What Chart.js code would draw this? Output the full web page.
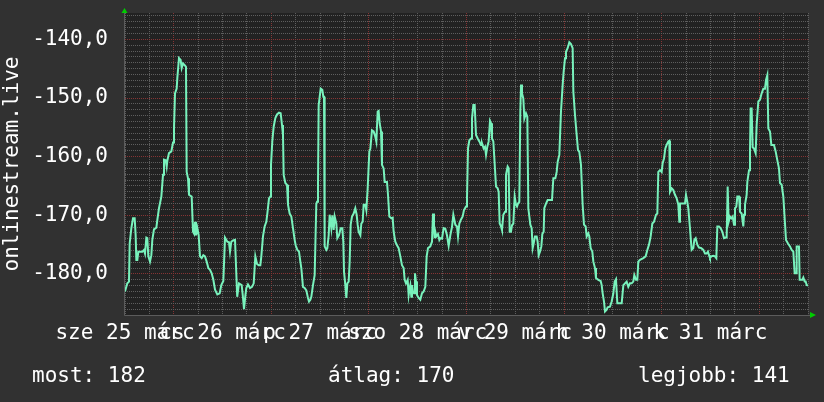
<!DOCTYPE html>
<html>
<head>
<meta charset="utf-8">
<script src="https://cdn.jsdelivr.net/npm/chart.js@4.4.1/dist/chart.umd.min.js"></script>
<style>
html,body{margin:0;padding:0;background:#313131;}
#wrap{width:824px;height:402px;position:relative;}
</style>
</head>
<body>
<div id="wrap"><canvas id="c" width="824" height="402"></canvas></div>
<script>
// time in hours from the start of the week shown
const hours = [
  0, 0.57, 0.98, 1.15, 1.56, 1.97, 2.38, 2.62, 2.79, 3.03,
  3.28, 4.26, 4.67, 4.92, 5.25, 5.49, 5.74, 6.15, 6.48, 6.72,
  7.13, 7.71, 7.95, 8.36, 8.94, 9.35, 9.59, 10.0, 10.25, 10.41,
  10.82, 11.4, 11.81, 12.05, 12.3, 12.71, 12.87, 13.28, 13.69, 13.94,
  14.27, 14.68, 15.0, 15.17, 15.5, 15.74, 16.4, 16.73, 16.97, 17.22,
  17.46, 17.79, 18.12, 18.45, 18.86, 19.27, 19.68, 20.09, 20.5, 20.91,
  21.32, 21.73, 22.14, 22.71, 23.29, 23.69, 24.19, 24.6, 25.17, 25.58,
  25.83, 26.15, 26.56, 27.06, 27.6, 28.04, 28.7, 29.02, 29.27, 29.64,
  29.84, 30.25, 30.75, 31.24, 31.66, 32.06, 32.47, 32.88, 33.29, 33.53,
  33.94, 34.35, 34.76, 35.01, 35.42, 35.75, 35.91, 36.24, 36.57, 36.98,
  37.39, 37.88, 38.29, 38.62, 38.86, 39.03, 39.44, 39.85, 40.09, 40.5,
  40.91, 41.32, 41.73, 41.98, 42.39, 42.8, 43.13, 43.37, 43.78, 44.19,
  44.6, 45.01, 45.26, 45.59, 45.83, 46.24, 46.65, 47.06, 47.23, 47.47,
  47.64, 48.13, 48.54, 48.78, 48.95, 49.11, 49.52, 49.77, 50.1, 50.34,
  50.75, 51.0, 51.33, 51.57, 51.98, 52.23, 52.64, 53.05, 53.46, 53.7,
  53.87, 54.2, 54.44, 54.69, 55.02, 55.26, 55.51, 55.84, 56.24, 56.65,
  56.98, 57.23, 57.47, 57.89, 58.13, 58.46, 58.7, 59.11, 59.36, 59.69,
  60.1, 60.35, 60.75, 61.16, 61.57, 61.82, 62.15, 62.39, 62.64, 62.97,
  63.21, 63.62, 63.87, 64.44, 64.69, 65.02, 65.51, 65.84, 66.08, 66.49,
  66.9, 67.31, 67.72, 68.13, 68.54, 68.79, 69.12, 69.53, 69.77, 70.02,
  70.18, 70.43, 70.59, 70.84, 71.09, 71.33, 71.58, 71.82, 72.23, 72.64,
  73.05, 73.46, 73.87, 74.2, 74.53, 75.1, 75.51, 75.76, 76.0, 76.17,
  76.33, 76.58, 76.99, 77.32, 77.56, 77.97, 78.38, 78.79, 79.2, 79.61,
  80.02, 80.43, 80.76, 81.25, 81.66, 81.91, 82.24, 82.65, 83.06, 83.38,
  83.88, 84.12, 84.37, 84.7, 85.11, 85.35, 85.68, 86.01, 86.34, 86.75,
  87.16, 87.57, 87.81, 88.22, 88.55, 88.8, 89.12, 89.45, 89.78, 90.03,
  90.27, 90.6, 90.85, 91.26, 91.67, 91.91, 92.16, 92.49, 92.73, 93.06,
  93.47, 93.71, 94.12, 94.37, 94.62, 94.94, 95.19, 95.52, 95.85, 96.17,
  96.42, 96.67, 96.99, 97.24, 97.41, 97.65, 97.98, 98.23, 98.63, 98.96,
  99.21, 99.7, 100.03, 100.27, 100.52, 100.85, 101.26, 101.5, 101.75, 102.08,
  102.41, 102.65, 102.98, 103.14, 103.55, 103.96, 104.54, 105.03, 105.36, 105.85,
  106.18, 106.42, 106.83, 107.24, 107.65, 107.9, 108.23, 108.47, 108.88, 109.29,
  109.7, 110.11, 110.28, 110.69, 111.1, 111.43, 111.75, 112.16, 112.57, 112.9,
  113.31, 113.56, 113.97, 114.21, 114.54, 114.95, 115.2, 115.61, 115.85, 116.43,
  117.0, 117.25, 117.49, 117.82, 118.07, 118.48, 118.72, 119.29, 119.71, 120.12,
  120.44, 120.77, 121.1, 121.59, 122.17, 122.58, 122.98, 123.39, 123.8, 124.21,
  124.62, 125.03, 125.28, 125.69, 126.02, 126.26, 126.67, 127.49, 128.07, 128.48,
  128.89, 129.3, 129.71, 130.12, 130.61, 130.94, 131.18, 131.59, 132.0, 132.25,
  132.58, 132.91, 133.23, 133.64, 133.89, 134.05, 134.46, 134.87, 135.28, 135.69,
  136.1, 136.35, 136.51, 136.92, 137.33, 137.74, 137.99, 138.32, 138.56, 138.97,
  139.22, 139.38, 139.79, 140.04, 140.37, 140.78, 141.19, 141.76, 142.25, 142.66,
  143.07, 143.4, 143.65, 143.89, 144.22, 144.71, 145.12, 145.45, 145.7, 146.11,
  146.52, 146.93, 147.34, 147.75, 147.99, 148.24, 148.48, 148.81, 149.14, 149.47,
  149.8, 150.04, 150.37, 150.62, 151.03, 151.27, 151.68, 152.09, 152.26, 152.5,
  152.91, 153.08, 153.49, 153.73, 153.89, 154.14, 154.39, 154.71, 155.12, 155.37,
  155.78, 156.19, 156.6, 157.01, 157.42, 157.67, 157.99, 158.24, 158.65, 158.98,
  159.63, 160.04, 160.45, 160.86, 161.11, 161.52, 161.93, 162.26, 162.59, 163.08,
  163.57, 163.98, 164.39, 164.72, 165.05, 165.21, 165.78, 165.95, 166.36, 166.6,
  166.85, 167.18, 167.42, 167.67, 168.0
];

const values = [
  -183.0, -181.6, -181.3, -174.8, -172.2, -170.5, -170.5, -173.4, -177.6, -177.6,
  -176.2, -176.2, -175.9, -176.5, -173.8, -173.9, -177.0, -177.9, -176.8, -174.2,
  -172.4, -172.1, -170.8, -168.8, -166.8, -163.1, -160.5, -160.6, -161.7, -160.7,
  -159.4, -159.1, -157.6, -155.2, -149.2, -148.4, -146.6, -143.2, -143.5, -144.9,
  -144.1, -144.4, -144.7, -162.6, -163.7, -166.5, -166.8, -172.8, -173.1, -171.1,
  -173.4, -172.2, -173.4, -177.0, -177.3, -176.8, -177.0, -177.9, -179.0, -179.3,
  -179.9, -181.0, -182.7, -183.5, -183.3, -181.9, -181.2, -173.8, -174.5, -174.6,
  -176.2, -174.5, -174.3, -174.2, -183.9, -181.6, -181.9, -184.0, -186.0, -183.5,
  -182.4, -181.8, -182.4, -182.2, -181.6, -177.0, -178.3, -178.5, -178.5, -177.0,
  -173.6, -171.9, -171.1, -169.7, -167.1, -166.8, -161.4, -157.3, -154.9, -153.4,
  -152.8, -152.5, -152.6, -154.6, -156.3, -163.1, -164.5, -164.8, -168.2, -169.7,
  -170.2, -172.2, -174.2, -175.1, -175.9, -176.2, -177.9, -179.0, -182.2, -182.4,
  -182.8, -184.1, -184.7, -184.4, -183.9, -181.9, -180.2, -168.0, -167.7, -165.1,
  -151.2, -148.4, -148.6, -149.8, -149.8, -175.3, -175.9, -175.6, -173.4, -169.9,
  -172.2, -170.0, -172.5, -170.2, -171.4, -173.9, -173.4, -172.2, -172.2, -174.5,
  -179.6, -181.9, -184.1, -181.6, -181.3, -177.9, -171.6, -170.2, -169.7, -168.8,
  -169.9, -171.6, -172.8, -173.4, -171.4, -171.1, -168.2, -168.2, -169.1, -165.4,
  -159.1, -158.6, -155.5, -155.7, -156.6, -157.4, -152.3, -152.2, -154.3, -155.7,
  -161.4, -162.0, -164.3, -164.3, -166.5, -170.2, -170.5, -170.4, -172.8, -174.5,
  -175.1, -175.6, -177.0, -178.5, -179.0, -181.0, -181.6, -181.0, -183.6, -182.4,
  -181.9, -183.9, -181.9, -183.0, -183.3, -179.9, -181.3, -183.6, -184.1, -184.4,
  -183.3, -183.0, -182.2, -177.0, -175.6, -175.3, -174.5, -169.7, -172.2, -173.9,
  -172.8, -173.6, -173.2, -174.2, -173.9, -174.0, -172.2, -172.3, -173.4, -175.2,
  -173.4, -172.0, -169.9, -171.6, -171.9, -173.6, -171.4, -170.7, -170.2, -169.1,
  -168.5, -167.1, -158.6, -157.2, -156.9, -153.5, -151.2, -151.2, -156.3, -156.9,
  -157.4, -158.0, -157.7, -158.6, -158.3, -159.7, -158.3, -157.4, -153.9, -154.3,
  -156.9, -157.4, -160.3, -165.1, -165.4, -166.0, -171.4, -171.9, -172.5, -169.9,
  -169.4, -163.1, -161.7, -162.0, -172.8, -172.8, -171.7, -171.4, -166.8, -168.2,
  -168.5, -168.0, -167.7, -152.3, -147.7, -149.2, -150.1, -153.5, -152.6, -153.2,
  -168.8, -171.6, -172.2, -175.6, -174.8, -173.6, -173.6, -174.5, -176.8, -176.2,
  -175.3, -173.2, -172.8, -168.8, -168.0, -167.4, -167.4, -167.4, -163.7, -163.7,
  -162.6, -160.9, -159.7, -152.3, -147.8, -145.5, -143.2, -142.1, -141.5, -140.5,
  -140.8, -141.5, -148.9, -152.9, -156.3, -158.9, -159.2, -161.4, -168.2, -171.6,
  -171.9, -173.6, -173.1, -173.6, -175.6, -176.2, -177.9, -179.0, -180.7, -181.0,
  -181.2, -181.9, -183.3, -184.7, -186.4, -186.1, -185.7, -185.6, -184.7, -183.3,
  -181.3, -180.9, -185.0, -185.0, -185.0, -181.9, -181.6, -181.3, -182.2, -181.6,
  -181.6, -181.3, -180.2, -181.0, -181.0, -177.9, -177.6, -177.3, -177.0, -175.9,
  -175.0, -173.6, -171.4, -171.1, -169.9, -169.7, -162.6, -162.3, -162.6, -161.1,
  -160.3, -158.6, -158.0, -157.4, -157.3, -166.0, -165.4, -165.7, -166.5, -167.1,
  -168.2, -171.1, -168.0, -168.0, -168.0, -168.0, -166.5, -167.7, -168.8, -172.2,
  -174.5, -175.9, -175.6, -174.2, -173.9, -175.0, -175.5, -175.6, -175.9, -176.5,
  -176.5, -176.2, -176.8, -177.3, -177.0, -176.9, -177.0, -177.3, -171.9, -171.9,
  -172.2, -172.8, -173.9, -173.8, -173.8, -165.1, -171.1, -170.2, -170.5, -170.2,
  -171.6, -168.8, -168.5, -166.8, -166.8, -169.4, -169.7, -171.9, -169.9, -168.2,
  -166.5, -164.3, -162.3, -159.1, -151.8, -151.8, -158.4, -158.6, -159.4, -154.6,
  -150.6, -150.3, -149.2, -148.4, -148.4, -146.9, -146.1, -155.2, -155.7, -158.0,
  -158.0, -159.1, -160.6, -162.0, -164.5, -164.8, -166.8, -170.5, -174.2, -174.8,
  -175.3, -175.9, -176.2, -179.9, -179.9, -175.3, -175.3, -181.0, -181.0, -181.0,
  -180.6, -181.3, -181.3, -181.9, -182.0
];

const dayLabels = ['sze 25 márc', 'cs 26 márc', 'p 27 márc', 'szo 28 márc', 'v 29 márc', 'h 30 márc', 'k 31 márc'];
const yAxisTitle = 'onlinestream.live';
const legendNames = ['most', 'átlag', 'legjobb'];
const legendValues = [182, 170, 141];
const xRange = [0, 168];
const yRange = [-187, -135.5];

const FONT = "'DejaVu Sans Mono', monospace";
Chart.defaults.font.family = FONT;
Chart.defaults.font.size = 21;
Chart.defaults.color = '#ffffff';

const GRID_MINOR = '#5e5e5e';
const GRID_MAJOR = '#863434';

const framePlugin = {
  id: 'frame',
  beforeDraw(chart) {
    const { ctx, chartArea: a } = chart;
    ctx.save();
    ctx.fillStyle = '#313131';
    ctx.fillRect(0, 0, chart.width, chart.height);
    ctx.fillStyle = '#222222';
    ctx.fillRect(a.left, a.top, a.right - a.left, a.bottom - a.top);
    ctx.restore();
  },
  afterDraw(chart) {
    const { ctx, chartArea: a } = chart;
    ctx.save();
    ctx.strokeStyle = '#5c5c5c';
    ctx.lineWidth = 1;
    ctx.beginPath();
    ctx.moveTo(a.left - 0.5, a.top - 2);
    ctx.lineTo(a.left - 0.5, a.bottom + 0.5);
    ctx.lineTo(a.right + 3, a.bottom + 0.5);
    ctx.stroke();
    ctx.fillStyle = '#00cc00';
    ctx.beginPath();
    ctx.moveTo(a.left - 0.5, a.top - 5);
    ctx.lineTo(a.left - 3.5, a.top);
    ctx.lineTo(a.left + 2.5, a.top);
    ctx.closePath();
    ctx.fill();
    ctx.beginPath();
    ctx.moveTo(a.right + 8, a.bottom);
    ctx.lineTo(a.right + 2, a.bottom - 3);
    ctx.lineTo(a.right + 2, a.bottom + 3);
    ctx.closePath();
    ctx.fill();
    ctx.font = "21px " + FONT;
    ctx.fillStyle = '#ffffff';
    ctx.textAlign = 'left';
    ctx.textBaseline = 'alphabetic';
    const xs = [32, 328, 638];
    legendNames.forEach((n, i) => ctx.fillText(n + ': ' + legendValues[i], xs[i], 382));
    ctx.restore();
  }
};

new Chart(document.getElementById('c'), {
  type: 'line',
  data: {
    datasets: [{
      data: hours.map((h, i) => ({ x: h, y: values[i] })),
      borderColor: '#78f2bc',
      borderWidth: 2,
      pointRadius: 0,
      tension: 0,
      fill: false
    }]
  },
  options: {
    responsive: false,
    animation: false,
    events: [],
    layout: { padding: { left: 0, right: 16, top: 13, bottom: 0 } },
    plugins: { legend: { display: false }, tooltip: { enabled: false } },
    scales: {
      x: {
        type: 'linear',
        min: xRange[0],
        max: xRange[1],
        afterBuildTicks(scale) {
          const t = [];
          for (let v = xRange[0]; v <= xRange[1]; v += 6) t.push({ value: v });
          scale.ticks = t;
        },
        afterFit(scale) { scale.height = 87; scale.paddingLeft = 0; scale.paddingRight = 0; },
        ticks: {
          autoSkip: false,
          maxRotation: 0,
          minRotation: 0,
          padding: 6,
          color: '#ffffff',
          callback: (v) => (v % 24 === 0 && v < 168) ? dayLabels[v / 24] : ''
        },
        grid: {
          drawTicks: false,
          lineWidth: 1,
          color: (c) => (c.tick && c.tick.value % 24 === 12) ? GRID_MAJOR : GRID_MINOR
        },
        border: { display: false, dash: [1, 1] }
      },
      y: {
        type: 'linear',
        min: yRange[0],
        max: yRange[1],
        afterBuildTicks(scale) {
          const t = [];
          for (let v = Math.ceil(yRange[0]); v <= yRange[1]; v += 1) t.push({ value: v });
          scale.ticks = t;
        },
        afterFit(scale) { scale.width = 125; scale.paddingTop = 0; scale.paddingBottom = 0; },
        ticks: {
          autoSkip: false,
          padding: 17,
          color: '#ffffff',
          callback: (v) => (v % 10 === 0) ? v.toFixed(1).replace('.', ',') : ''
        },
        grid: {
          drawTicks: false,
          lineWidth: 1,
          color: (c) => (c.tick && c.tick.value % 10 === 0) ? GRID_MAJOR : GRID_MINOR
        },
        border: { display: false, dash: [1, 1] },
        title: {
          display: true,
          text: yAxisTitle,
          color: '#ffffff',
          padding: 0,
          font: { size: 21, family: FONT }
        }
      }
    }
  },
  plugins: [framePlugin]
});
</script>
</body>
</html>
